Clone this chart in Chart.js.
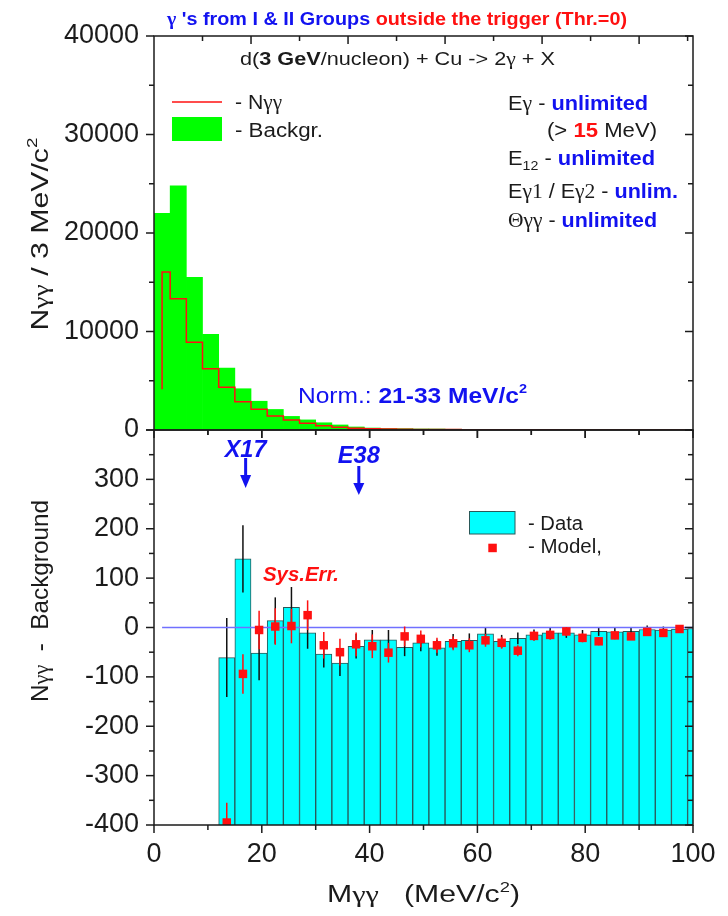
<!DOCTYPE html>
<html>
<head>
<meta charset="utf-8">
<script src="https://cdn.jsdelivr.net/npm/chart.js@4.4.1/dist/chart.umd.min.js"></script>
<style>
  html, body { margin: 0; padding: 0; background: #ffffff; }
  #wrap { position: relative; width: 728px; height: 916px; overflow: hidden; }
  #wrap canvas { position: absolute; left: 0; }
</style>
</head>
<body>
<div id="wrap">
  <canvas id="upper" width="728" height="446" style="top:0px"></canvas>
  <canvas id="lower" width="728" height="496" style="top:420px"></canvas>
</div>
<script>
// ---- invariant-mass bins (centres, MeV/c^2), 3 MeV/c^2 wide ----
const massBins = [1.5, 4.5, 7.5, 10.5, 13.5, 16.5, 19.5, 22.5, 25.5, 28.5, 31.5, 34.5,
  37.5, 40.5, 43.5, 46.5, 49.5, 52.5, 55.5, 58.5, 61.5, 64.5, 67.5, 70.5, 73.5, 76.5,
  79.5, 82.5, 85.5, 88.5, 91.5, 94.5, 97.5, 100.5];

// upper panel: measured N(gamma gamma) and normalised background per bin
const nGammaGamma = [4130, 16040, 13330, 8900, 6220, 4330, 2870, 2100, 1420, 1015, 680, 440,
  270, 175, 122, 92, 73, 58, 47, 39, 32, 27, 23, 19, 16, 14, 12, 11, 10, 9, 8, 7, 6, 5];
const background = [22000, 24800, 15500, 9720, 6280, 4190, 2920, 2086, 1380, 1026, 734, 512,
  308, 200, 147, 132, 104, 99, 75, 65, 45, 55, 45, 34, 27, 25, 26, 18, 18, 16, 10, 10, 8, 7];

// lower panel: N(gamma gamma) - background with statistical errors
const diffBins = [13.5, 16.5, 19.5, 22.5, 25.5, 28.5, 31.5, 34.5, 37.5, 40.5, 43.5, 46.5,
  49.5, 52.5, 55.5, 58.5, 61.5, 64.5, 67.5, 70.5, 73.5, 76.5, 79.5, 82.5, 85.5, 88.5,
  91.5, 94.5, 97.5, 100.5];
const diffData = [-61, 139, -52, 14, 41, -11, -54, -72, -38, -25, -25, -40, -31, -41, -28,
  -26, -13, -28, -22, -15, -11, -11, -15, -8, -9, -8, -4, -5, -3, -2];
const diffErr = [80, 68, 55, 47, 41, 32, 27, 26, 25, 20, 20, 18, 17, 16, 15, 14, 13, 13, 12,
  11, 11, 10, 10, 9, 9, 8, 8, 7, 7, 6];

// model expectation with systematic errors
const modelBins = [13.5, 16.5, 19.5, 22.5, 25.5, 28.5, 31.5, 34.5, 37.5, 40.5, 43.5, 46.5,
  49.5, 52.5, 55.5, 58.5, 61.5, 64.5, 67.5, 70.5, 73.5, 76.5, 79.5, 82.5, 85.5, 88.5,
  91.5, 94.5, 97.5];
const modelData = [-395, -94, -5, 2, 3, 25, -36, -50, -34, -38, -51, -18, -23, -36, -32,
  -36, -26, -31, -47, -17, -15, -8, -21, -28, -16, -18, -9, -11, -3];
const modelErr = [40, 40, 39, 37, 35, 30, 27, 27, 24, 24, 20, 20, 17, 15, 14, 14, 13, 12,
  11, 10, 10, 9, 9, 8, 8, 7, 7, 6, 6];

// axis tick labels
const upperTicks = [0, 10000, 20000, 30000, 40000];
const lowerTicks = [-400, -300, -200, -100, 0, 100, 200, 300];
const massTicks = [0, 20, 40, 60, 80, 100];

// resonance markers
const markers = [{ name: 'X17', mass: 17 }, { name: 'E38', mass: 38 }];

// ---------------------------------------------------------------
const SANS = '"Liberation Sans", Arial, Helvetica, sans-serif';
const SERIF = '"Liberation Serif", "Times New Roman", serif';
const INK = '#1b1b1b', BLUE = '#1212f0', RED = '#ff1010';
const sf = (size, style) => (style ? style + ' ' : '') + size + 'px ' + SANS;
const rf = (size, style) => (style ? style + ' ' : '') + size + 'px ' + SERIF;
const HALF_BIN = 1.5;
const LOWER_FLOOR = -400;

// draw a sequence of styled text runs, optionally squeezed/stretched to a width
function drawRuns(ctx, parts, x, y, align, width) {
  let w = 0;
  parts.forEach(p => { ctx.font = p.f; p.w = ctx.measureText(p.t).width; w += p.w; });
  const sx = width ? width / w : 1;
  const x0 = align === 'center' ? x - (w * sx) / 2 : x;
  ctx.save();
  ctx.translate(x0, y);
  ctx.scale(sx, 1);
  ctx.textAlign = 'left';
  ctx.textBaseline = 'alphabetic';
  let cx = 0;
  parts.forEach(p => {
    ctx.font = p.f;
    ctx.fillStyle = p.c || INK;
    ctx.fillText(p.t, cx, p.dy || 0);
    cx += p.w;
  });
  ctx.restore();
}
function drawRotated(ctx, parts, x, cy, width) {
  ctx.save();
  ctx.translate(x, cy);
  ctx.rotate(-Math.PI / 2);
  drawRuns(ctx, parts, 0, 0, 'center', width);
  ctx.restore();
}

// keep the plot rectangle fixed: no extra room reserved for overhanging labels
function fixedY(s) { s.width = 154; s.paddingTop = 0; s.paddingBottom = 0; }
function fixedX(s) { s.height = 91; s.paddingLeft = 0; s.paddingRight = 0; }

// frame with major/minor tick marks: outward on left/bottom, inward on right/top
const axisFrame = {
  id: 'axisFrame',
  afterDraw(chart, args, o) {
    const { ctx, chartArea: a, scales: { x, y } } = chart;
    ctx.save();
    ctx.strokeStyle = INK;
    ctx.lineWidth = 1.5;
    ctx.strokeRect(a.left, a.top, a.right - a.left, a.bottom - a.top);
    const seg = (x1, y1, x2, y2) => { ctx.beginPath(); ctx.moveTo(x1, y1); ctx.lineTo(x2, y2); ctx.stroke(); };
    const yTicks = (vals, len) => vals.forEach(v => {
      const py = y.getPixelForValue(v);
      seg(a.left - len, py, a.left, py);
      seg(a.right - len, py, a.right, py);
    });
    yTicks(o.yMajor, 8); yTicks(o.yMinor, 5);
    o.xTopMajor.forEach(v => { const px = x.getPixelForValue(v); seg(px, a.top, px, a.top + 8); });
    o.xTopMinor.forEach(v => { const px = x.getPixelForValue(v); seg(px, a.top, px, a.top + 5); });
    o.xBotMajor.forEach(v => { const px = x.getPixelForValue(v); seg(px, a.bottom, px, a.bottom + 8); });
    o.xBotMinor.forEach(v => { const px = x.getPixelForValue(v); seg(px, a.bottom, px, a.bottom + 5); });
    ctx.restore();
  }
};

// vertical error bars attached to a dataset
const errorBars = {
  id: 'errorBars',
  _draw(chart, spec) {
    const { ctx, chartArea: a, scales: { x, y } } = chart;
    ctx.save();
    ctx.beginPath();
    ctx.rect(a.left, a.top, a.right - a.left, a.bottom - a.top);
    ctx.clip();
    ctx.strokeStyle = spec.color;
    ctx.lineWidth = spec.width;
    spec.xs.forEach((m, i) => {
      const px = x.getPixelForValue(m);
      ctx.beginPath();
      ctx.moveTo(px, y.getPixelForValue(spec.vals[i] - spec.errs[i]));
      ctx.lineTo(px, y.getPixelForValue(spec.vals[i] + spec.errs[i]));
      ctx.stroke();
    });
    ctx.restore();
  },
  beforeDatasetDraw(chart, args, o) {
    (o.sets || []).filter(s => s.index === args.index && s.when === 'before').forEach(s => this._draw(chart, s));
  },
  afterDatasetDraw(chart, args, o) {
    (o.sets || []).filter(s => s.index === args.index && s.when === 'after').forEach(s => this._draw(chart, s));
  }
};

const range = (a, b, s) => { const r = []; for (let v = a; v <= b + 1e-9; v += s) r.push(v); return r; };

// ---------------- upper panel ----------------
const stepPoints = massBins.map((m, i) => ({ x: i === 0 ? m : m - HALF_BIN, y: nGammaGamma[i] }));
stepPoints.push({ x: massBins[massBins.length - 1] + HALF_BIN, y: nGammaGamma[nGammaGamma.length - 1] });

const upperText = {
  id: 'upperText',
  afterDraw(chart) {
    const ctx = chart.ctx;
    // header line
    drawRuns(ctx, [
      { t: 'γ', f: rf(18, 'bold'), c: BLUE },
      { t: " 's from I & II Groups ", f: sf(18, 'bold'), c: BLUE },
      { t: 'outside the trigger (Thr.=0)', f: sf(18, 'bold'), c: RED }
    ], 167, 25, 'left', 460);
    // reaction
    drawRuns(ctx, [
      { t: 'd(', f: sf(19) },
      { t: '3 GeV', f: sf(19, 'bold') },
      { t: '/nucleon) + Cu -> 2', f: sf(19) },
      { t: 'γ', f: rf(19) },
      { t: ' + X', f: sf(19) }
    ], 240, 65, 'left', 315);
    // legend
    ctx.save();
    ctx.strokeStyle = RED; ctx.lineWidth = 1.5;
    ctx.beginPath(); ctx.moveTo(172, 102); ctx.lineTo(222, 102); ctx.stroke();
    ctx.fillStyle = '#00ff00';
    ctx.fillRect(172, 117, 50, 24);
    ctx.restore();
    drawRuns(ctx, [{ t: '- N', f: sf(20) }, { t: 'γγ', f: rf(20) }], 235, 109, 'left', 47);
    drawRuns(ctx, [{ t: '- Backgr.', f: sf(20) }], 235, 137, 'left', 88);
    // selection conditions
    drawRuns(ctx, [
      { t: 'E', f: sf(20) }, { t: 'γ', f: rf(20) }, { t: ' - ', f: sf(20) },
      { t: 'unlimited', f: sf(20, 'bold'), c: BLUE }
    ], 508, 110, 'left', 140);
    drawRuns(ctx, [
      { t: '(> ', f: sf(20) }, { t: '15', f: sf(20, 'bold'), c: RED }, { t: ' MeV)', f: sf(20) }
    ], 547, 137, 'left', 110);
    drawRuns(ctx, [
      { t: 'E', f: sf(20) }, { t: '12', f: sf(13), dy: 5 }, { t: ' - ', f: sf(20) },
      { t: 'unlimited', f: sf(20, 'bold'), c: BLUE }
    ], 508, 165, 'left', 147);
    drawRuns(ctx, [
      { t: 'E', f: sf(20) }, { t: 'γ1', f: rf(20) }, { t: ' / E', f: sf(20) }, { t: 'γ2', f: rf(20) },
      { t: ' - ', f: sf(20) }, { t: 'unlim.', f: sf(20, 'bold'), c: BLUE }
    ], 508, 198, 'left', 170);
    drawRuns(ctx, [
      { t: 'Θγγ', f: rf(20) }, { t: ' - ', f: sf(20) },
      { t: 'unlimited', f: sf(20, 'bold'), c: BLUE }
    ], 508, 227, 'left', 149);
    // normalisation window
    drawRuns(ctx, [
      { t: 'Norm.: ', f: sf(22), c: BLUE },
      { t: '21-33 MeV/c', f: sf(22, 'bold'), c: BLUE },
      { t: '2', f: sf(13, 'bold'), c: BLUE, dy: -10 }
    ], 298, 403, 'left', 229);
    // y title
    drawRotated(ctx, [
      { t: 'N', f: sf(24) }, { t: 'γγ', f: rf(22) }, { t: ' / 3 MeV/c', f: sf(24) },
      { t: '2', f: sf(15), dy: -11 }
    ], 48, 234, 193);
  }
};

new Chart(document.getElementById('upper'), {
  type: 'bar',
  data: {
    datasets: [
      {
        type: 'line', label: 'Nγγ', data: stepPoints, stepped: 'after',
        borderColor: RED, borderWidth: 1.5, pointRadius: 0, fill: false, order: 0
      },
      {
        type: 'bar', label: 'Backgr.',
        data: massBins.map((m, i) => ({ x: m, y: background[i] })),
        backgroundColor: '#00ff00', borderWidth: 0,
        barPercentage: 1, categoryPercentage: 1, order: 1
      }
    ]
  },
  options: {
    responsive: false, animation: false, devicePixelRatio: 1,
    layout: { padding: { left: 0, right: 35, top: 36, bottom: 16 } },
    plugins: {
      legend: { display: false }, tooltip: { enabled: false },
      axisFrame: {
        yMajor: upperTicks, yMinor: range(5000, 35000, 10000),
        xTopMajor: range(18, 90, 18), xTopMinor: range(9, 99, 18),
        xBotMajor: massTicks, xBotMinor: range(10, 90, 20)
      }
    },
    scales: {
      x: { type: 'linear', min: 0, max: 100, offset: false, display: false },
      y: {
        min: 0, max: 40000,
        afterFit: fixedY,
        afterBuildTicks(s) { s.ticks = upperTicks.map(v => ({ value: v })); },
        grid: { display: false, drawTicks: false }, border: { display: false },
        ticks: { padding: 15, color: INK, font: { family: SANS, size: 27 }, callback: v => String(v) }
      }
    }
  },
  plugins: [axisFrame, upperText]
});

// ---------------- lower panel ----------------
const lowerText = {
  id: 'lowerText',
  afterDraw(chart) {
    const ctx = chart.ctx;
    const x = chart.scales.x;
    // resonance arrows
    const geo = { X17: { base: 37, top: 38, head: 55, tip: 68 }, E38: { base: 43, top: 46, head: 63, tip: 75 } };
    markers.forEach(mk => {
      const g = geo[mk.name];
      const px = x.getPixelForValue(mk.mass);
      drawRuns(ctx, [{ t: mk.name, f: sf(24, 'italic bold'), c: BLUE }], px, g.base, 'center', 42);
      ctx.save();
      ctx.fillStyle = BLUE;
      ctx.fillRect(px - 1.5, g.top, 3, g.head - g.top + 1);
      ctx.beginPath();
      ctx.moveTo(px - 5.5, g.head); ctx.lineTo(px + 5.5, g.head); ctx.lineTo(px, g.tip);
      ctx.closePath(); ctx.fill();
      ctx.restore();
    });
    drawRuns(ctx, [{ t: 'Sys.Err.', f: sf(20, 'italic bold'), c: RED }], 263, 161, 'left', 76);
    // legend
    ctx.save();
    ctx.fillStyle = '#00ffff';
    ctx.fillRect(469.5, 91.5, 45.5, 22.5);
    ctx.strokeStyle = '#2a5858'; ctx.lineWidth = 1;
    ctx.strokeRect(469.5, 91.5, 45.5, 22.5);
    ctx.fillStyle = RED;
    ctx.fillRect(488.3, 123.7, 8.5, 8.5);
    ctx.restore();
    drawRuns(ctx, [{ t: '- Data', f: sf(20) }], 528, 110, 'left', 55);
    drawRuns(ctx, [{ t: '- Model,', f: sf(20) }], 528, 133, 'left', 74);
    // axis titles
    drawRuns(ctx, [
      { t: 'M', f: sf(23) }, { t: 'γγ', f: rf(23) }, { t: '   (MeV/c', f: sf(23) },
      { t: '2', f: sf(14), dy: -10 }, { t: ')', f: sf(23) }
    ], 327, 482, 'left', 193);
    drawRotated(ctx, [
      { t: 'N', f: sf(24) }, { t: 'γγ', f: rf(22) }, { t: '  -  Background', f: sf(24) }
    ], 48, 181, 202);
  }
};

new Chart(document.getElementById('lower'), {
  type: 'bar',
  data: {
    datasets: [
      {
        type: 'scatter', label: 'Model',
        data: modelBins.map((m, i) => ({ x: m, y: modelData[i] })),
        pointStyle: 'rect', pointRadius: 6, backgroundColor: RED, borderWidth: 0, order: 0
      },
      {
        type: 'line', label: 'zero',
        data: [{ x: HALF_BIN, y: 0 }, { x: 100, y: 0 }],
        borderColor: '#7070ff', borderWidth: 1.5, pointRadius: 0, fill: false, order: 1
      },
      {
        type: 'bar', label: 'Data',
        data: diffBins.map((m, i) => ({ x: m, y: diffData[i] })),
        base: LOWER_FLOOR,
        backgroundColor: '#00ffff', borderColor: '#2a5858', borderWidth: 1,
        barPercentage: 1, categoryPercentage: 1, order: 2
      }
    ]
  },
  options: {
    responsive: false, animation: false, devicePixelRatio: 1,
    layout: { padding: { left: 0, right: 35, top: 10, bottom: 0 } },
    plugins: {
      legend: { display: false }, tooltip: { enabled: false },
      axisFrame: {
        yMajor: range(-400, 400, 100), yMinor: range(-350, 350, 100),
        xTopMajor: range(20, 80, 20), xTopMinor: range(10, 90, 20),
        xBotMajor: massTicks, xBotMinor: range(10, 90, 20)
      },
      errorBars: {
        sets: [
          { index: 2, when: 'after', xs: diffBins, vals: diffData, errs: diffErr, color: '#111111', width: 1.5 },
          { index: 0, when: 'before', xs: modelBins, vals: modelData, errs: modelErr, color: RED, width: 1.5 }
        ]
      }
    },
    scales: {
      x: {
        type: 'linear', min: 0, max: 100, offset: false,
        afterFit: fixedX,
        afterBuildTicks(s) { s.ticks = massTicks.map(v => ({ value: v })); },
        grid: { display: false, drawTicks: false }, border: { display: false },
        ticks: { padding: 13, maxRotation: 0, autoSkip: false, color: INK, font: { family: SANS, size: 27 }, callback: v => String(v) }
      },
      y: {
        min: -400, max: 400,
        afterFit: fixedY,
        afterBuildTicks(s) { s.ticks = lowerTicks.map(v => ({ value: v })); },
        grid: { display: false, drawTicks: false }, border: { display: false },
        ticks: { padding: 15, color: INK, font: { family: SANS, size: 27 }, callback: v => String(v) }
      }
    }
  },
  plugins: [axisFrame, errorBars, lowerText]
});
</script>
</body>
</html>
